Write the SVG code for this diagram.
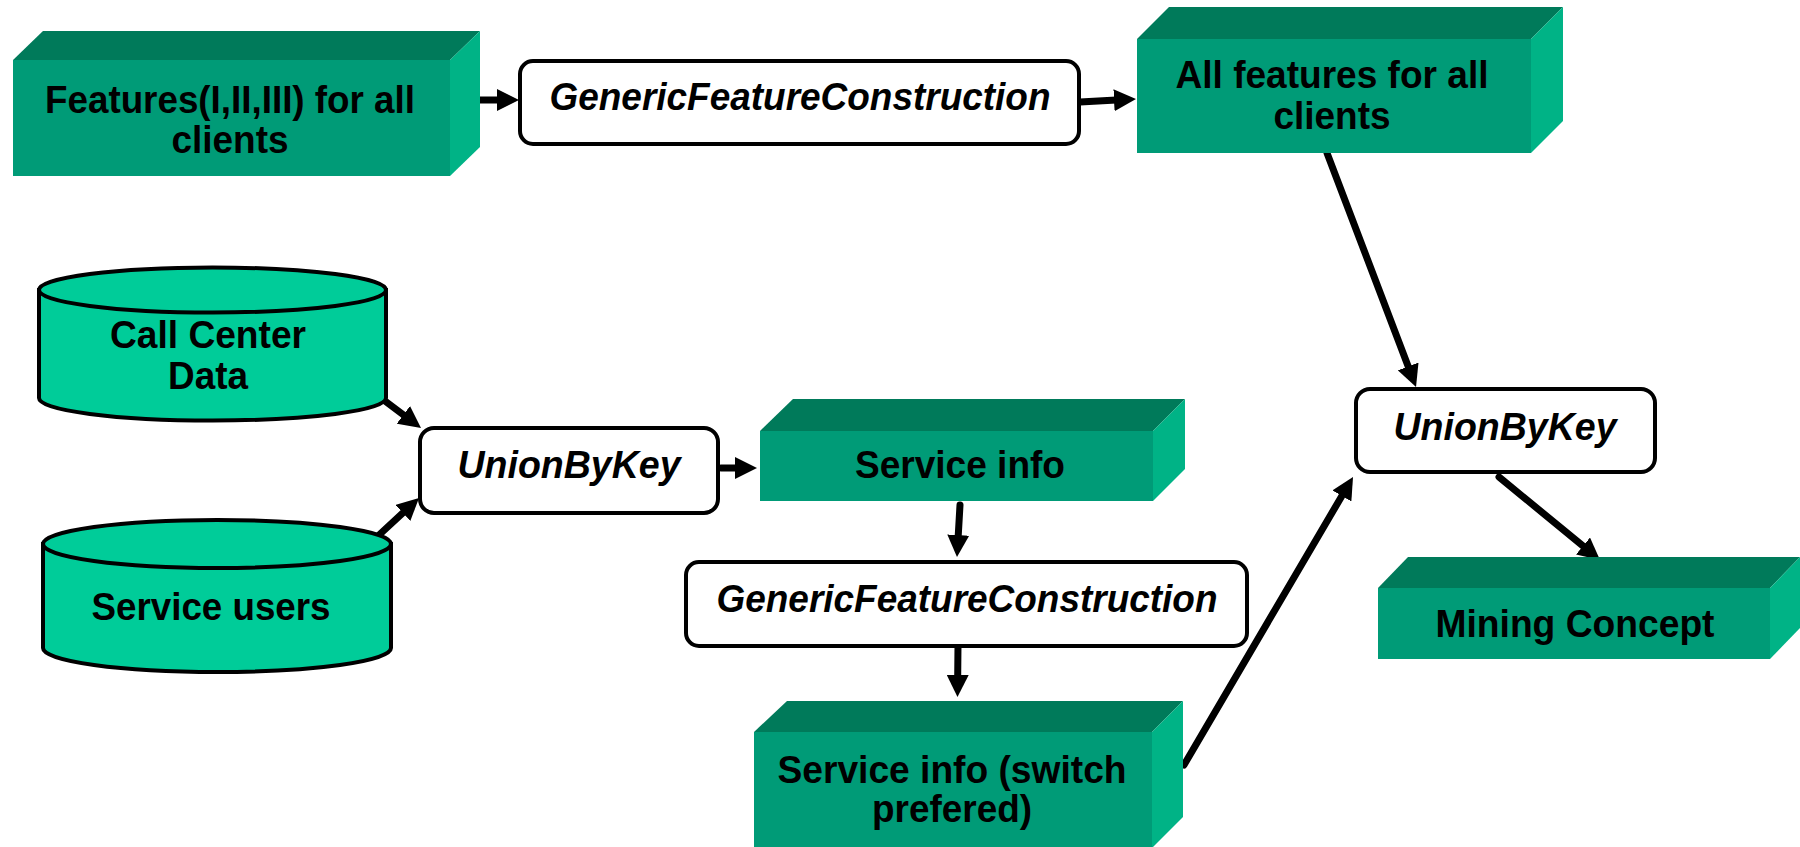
<svg xmlns="http://www.w3.org/2000/svg" width="1800" height="847" viewBox="0 0 1800 847">
  <defs>
    <style>
      .front { fill: #009B77; }
      .top { fill: #007A5A; }
      .side { fill: #00B386; }
      .db { fill: #00CC99; stroke: #000; stroke-width: 4; }
      .op { fill: #fff; stroke: #000; stroke-width: 4; }
      .lbl { font-family: "Liberation Sans", Arial, sans-serif; font-weight: bold; font-size: 39px; fill: #000; text-anchor: middle; }
      .it { font-style: italic; }
      .edge { fill: none; stroke: #000; stroke-width: 7; stroke-linecap: round; marker-end: url(#head); }
    </style>
    <marker id="head" markerUnits="userSpaceOnUse" markerWidth="22" markerHeight="22" refX="11.5" refY="11" orient="auto">
      <path d="M0,0 L22,11 L0,22 Z" fill="#000"/>
    </marker>
  </defs>
  <rect width="1800" height="847" fill="#fff"/>

  <!-- connectors -->
  <g id="connectors">
    <path class="edge" d="M465,100 L508.5,100"/>
    <path class="edge" d="M1080,102 L1125.5,99.6"/>
    <path class="edge" d="M385,401 L412.6,421.7"/>
    <path class="edge" d="M379,535 L411.3,505.1"/>
    <path class="edge" d="M721,468 L746.5,468"/>
    <path class="edge" d="M960,505 L957.6,546.5"/>
    <path class="edge" d="M958,645 L957.6,686.5"/>
    <path class="edge" d="M1184,765 L1347.7,486"/>
    <path class="edge" d="M1327,153 L1412.3,377.2"/>
    <path class="edge" d="M1499,477 L1591.9,553.3"/>
  </g>

  <!-- data set blocks -->
  <g id="features">
    <polygon class="top" points="13,60 43,31 480,31 450,60"/>
    <polygon class="side" points="450,60 480,31 480,147 450,176"/>
    <rect class="front" x="13" y="60" width="437" height="116"/>
    <text class="lbl" x="230" y="113" textLength="370" lengthAdjust="spacingAndGlyphs">Features(I,II,III) for all</text>
    <text class="lbl" x="230" y="153" textLength="117" lengthAdjust="spacingAndGlyphs">clients</text>
  </g>

  <g id="gfc1">
    <rect class="op" x="520" y="61" width="559" height="83" rx="13"/>
    <text class="lbl it" x="800" y="110" textLength="501" lengthAdjust="spacingAndGlyphs">GenericFeatureConstruction</text>
  </g>

  <g id="all-features">
    <polygon class="top" points="1137,39 1169,7 1563,7 1531,39"/>
    <polygon class="side" points="1531,39 1563,7 1563,121 1531,153"/>
    <rect class="front" x="1137" y="39" width="394" height="114"/>
    <text class="lbl" x="1332" y="88" textLength="313" lengthAdjust="spacingAndGlyphs">All features for all</text>
    <text class="lbl" x="1332" y="129" textLength="117" lengthAdjust="spacingAndGlyphs">clients</text>
  </g>

  <g id="call-center">
    <path class="db" d="M39,290 L39,398 A173.5,22.5 0 0 0 386,398 L386,290 Z"/>
    <ellipse class="db" cx="212.5" cy="290" rx="173.5" ry="22.5"/>
    <text class="lbl" x="208" y="348" textLength="196" lengthAdjust="spacingAndGlyphs">Call Center</text>
    <text class="lbl" x="208" y="389" textLength="80" lengthAdjust="spacingAndGlyphs">Data</text>
  </g>

  <g id="service-users">
    <path class="db" d="M43,544 L43,648 A174,24 0 0 0 391,648 L391,544 Z"/>
    <ellipse class="db" cx="217" cy="544" rx="174" ry="24"/>
    <text class="lbl" x="211" y="620" textLength="239" lengthAdjust="spacingAndGlyphs">Service users</text>
  </g>

  <g id="union1">
    <rect class="op" x="420" y="428" width="298" height="85" rx="14"/>
    <text class="lbl it" x="569" y="478" textLength="223" lengthAdjust="spacingAndGlyphs">UnionByKey</text>
  </g>

  <g id="service-info">
    <polygon class="top" points="760,431 793,399 1185,399 1153,431"/>
    <polygon class="side" points="1153,431 1185,399 1185,469 1153,501"/>
    <rect class="front" x="760" y="431" width="393" height="70"/>
    <text class="lbl" x="960" y="478" textLength="210" lengthAdjust="spacingAndGlyphs">Service info</text>
  </g>

  <g id="gfc2">
    <rect class="op" x="686" y="562" width="561" height="84" rx="13"/>
    <text class="lbl it" x="967" y="612" textLength="501" lengthAdjust="spacingAndGlyphs">GenericFeatureConstruction</text>
  </g>

  <g id="service-info-switch">
    <polygon class="top" points="754,732 787,701 1183,701 1152,732"/>
    <polygon class="side" points="1152,732 1183,701 1183,817 1152,848"/>
    <rect class="front" x="754" y="732" width="398" height="116"/>
    <text class="lbl" x="952" y="783" textLength="349" lengthAdjust="spacingAndGlyphs">Service info (switch</text>
    <text class="lbl" x="952" y="822" textLength="160" lengthAdjust="spacingAndGlyphs">prefered)</text>
  </g>

  <g id="union2">
    <rect class="op" x="1356" y="389" width="299" height="83" rx="14"/>
    <text class="lbl it" x="1505" y="440" textLength="223" lengthAdjust="spacingAndGlyphs">UnionByKey</text>
  </g>

  <g id="mining-concept">
    <polygon class="top" points="1378,588 1408,557 1800,557 1770,588"/>
    <polygon class="side" points="1770,588 1800,557 1800,628 1770,659"/>
    <rect class="front" x="1378" y="588" width="392" height="71"/>
    <text class="lbl" x="1575" y="637" textLength="279" lengthAdjust="spacingAndGlyphs">Mining Concept</text>
  </g>
</svg>
